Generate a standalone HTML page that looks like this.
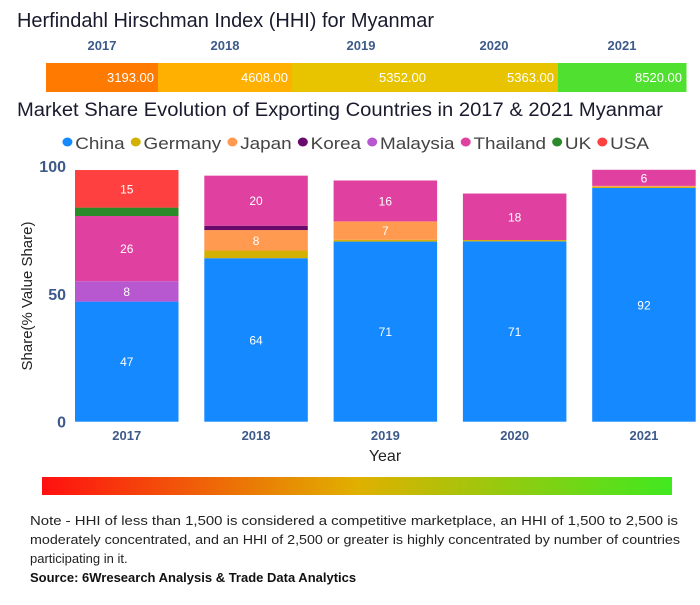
<!DOCTYPE html>
<html><head><meta charset="utf-8"><style>
body{margin:0;width:700px;height:600px;background:#fff;font-family:"Liberation Sans",sans-serif;overflow:hidden}
svg text{font-family:"Liberation Sans",sans-serif}
</style></head><body>
<svg id="c" width="700" height="600">
<defs><linearGradient id="g" x1="0" x2="1"><stop offset="0" stop-color="#ff1010"/><stop offset="0.5" stop-color="#e0b000"/><stop offset="1" stop-color="#40e820"/></linearGradient></defs>
<text x="17" y="27" font-size="20" fill="#1a1a2e" textLength="417" lengthAdjust="spacingAndGlyphs">Herfindahl Hirschman Index (HHI) for Myanmar</text>
<text x="17" y="116" font-size="19" fill="#1a1a2e" textLength="646" lengthAdjust="spacingAndGlyphs">Market Share Evolution of Exporting Countries in 2017 &amp; 2021 Myanmar</text>
<g id="hhi"></g><g id="legend"></g><g id="bars"></g><g id="axes"></g>
<rect x="42" y="477" width="630" height="18" fill="url(#g)"/>
<text font-size="13" fill="#222"><tspan x="30" y="525" textLength="648" lengthAdjust="spacingAndGlyphs">Note - HHI of less than 1,500 is considered a competitive marketplace, an HHI of 1,500 to 2,500 is</tspan><tspan x="30" y="544" textLength="650" lengthAdjust="spacingAndGlyphs">moderately concentrated, and an HHI of 2,500 or greater is highly concentrated by number of countries</tspan><tspan x="30" y="563">participating in it.</tspan></text>
<text x="30" y="582" font-size="13" font-weight="bold" fill="#111">Source: 6Wresearch Analysis &amp; Trade Data Analytics</text>
</svg>
<script>
const years=["2017","2018","2019","2020","2021"];
const hhiValues=[3193,4608,5352,5363,8520];
const hhiColors=["#ff7a00","#ffb000","#e8c400","#e8c400","#50e030"];
const countries=["China","Germany","Japan","Korea","Malaysia","Thailand","UK","USA"];
const colors=["#1589ff","#d4b000","#ff9a50","#6a0a6a","#b858d0","#e040a0","#2a8a2a","#ff4040"];
const china=[47,64,70.5,70.6,91.5];
const germany=[0,3,0.7,0.5,0.4];
const japan=[0,8,7.2,0,0.4];
const korea=[0,1.7,0,0,0];
const malaysia=[8,0,0,0,0];
const thailand=[25.5,19.6,16,18.2,6.3];
const uk=[3.3,0,0,0,0];
const usa=[14.7,0,0,0,0];
const series=[china,germany,japan,korea,malaysia,thailand,uk,usa];
const yTicks=[0,50,100];
const NS="http://www.w3.org/2000/svg";
function mk(p,t,a,txt){const e=document.createElementNS(NS,t);for(const k in a)e.setAttribute(k,a[k]);if(txt!==undefined)e.textContent=txt;p.appendChild(e);return e;}
// HHI strip (layout widths as in the reference visual)
const segW=[112,134,138,128,128];
let hx=46;const hg=document.getElementById('hhi');
hhiValues.forEach((v,i)=>{const w=segW[i];
const r=mk(hg,'rect',{x:hx,y:63,width:w+0.5,height:29,fill:hhiColors[i]});


const t=mk(hg,'text',{x:hx+w-4,y:82,'font-size':13,fill:'#fff','text-anchor':'end'},v.toFixed(2));


const y=mk(hg,'text',{x:hx+w/2,y:50,'font-size':13,'font-weight':'bold',fill:'#3d5a8a','text-anchor':'middle'},years[i]);


hx+=w;});
// legend
const lg=document.getElementById('legend');let lx=0;
countries.forEach((c,i)=>{const g=mk(lg,'g',{});


mk(g,'circle',{cx:lx+4,cy:142,r:4.5,fill:colors[i]});
const t=mk(g,'text',{x:lx+11,y:149,'font-size':17,fill:'#444'},c);
lx+=11+t.getComputedTextLength()+6;});
const lsc=586/(lx-6);
lg.setAttribute('transform','translate(63,0) scale('+lsc+',1)');
// axes
const y0=421.7,ppu=2.555;const ys=v=>y0-v*ppu;
const bx0=75,step=129.3,bw=103.5;const xs=i=>bx0+i*step;
const ax=document.getElementById('axes');
yTicks.forEach(v=>{const t=mk(ax,'text',{x:66,y:ys(v)+6,'font-size':16,'font-weight':'bold',fill:'#3d5a8a','text-anchor':'end'},v);

});
years.forEach((y,i)=>{const t=mk(ax,'text',{x:xs(i)+bw/2,y:440,'font-size':13,'font-weight':'bold',fill:'#3d5a8a','text-anchor':'middle'},y);

});
const yt=mk(ax,'text',{x:0,y:0,'font-size':15,fill:'#222','text-anchor':'middle',transform:'translate(32,296) rotate(-90)'},'Share(% Value Share)');


const xt=mk(ax,'text',{x:385,y:461,'font-size':16,fill:'#222','text-anchor':'middle'},'Year');


// bars
const bg=document.getElementById('bars');
years.forEach((y,i)=>{let acc=0;series.forEach((s,k)=>{const v=s[i];if(v<=0)return;
const r=mk(bg,'rect',{x:xs(i),y:ys(acc+v),width:bw,height:v*ppu,fill:colors[k]});


if(v>=5){const t=mk(bg,'text',{x:xs(i)+bw/2,y:ys(acc+v/2)+4.5,'font-size':12,fill:'#fff','text-anchor':'middle'},Math.round(v));

}
acc+=v;});});
</script>
</body></html>
